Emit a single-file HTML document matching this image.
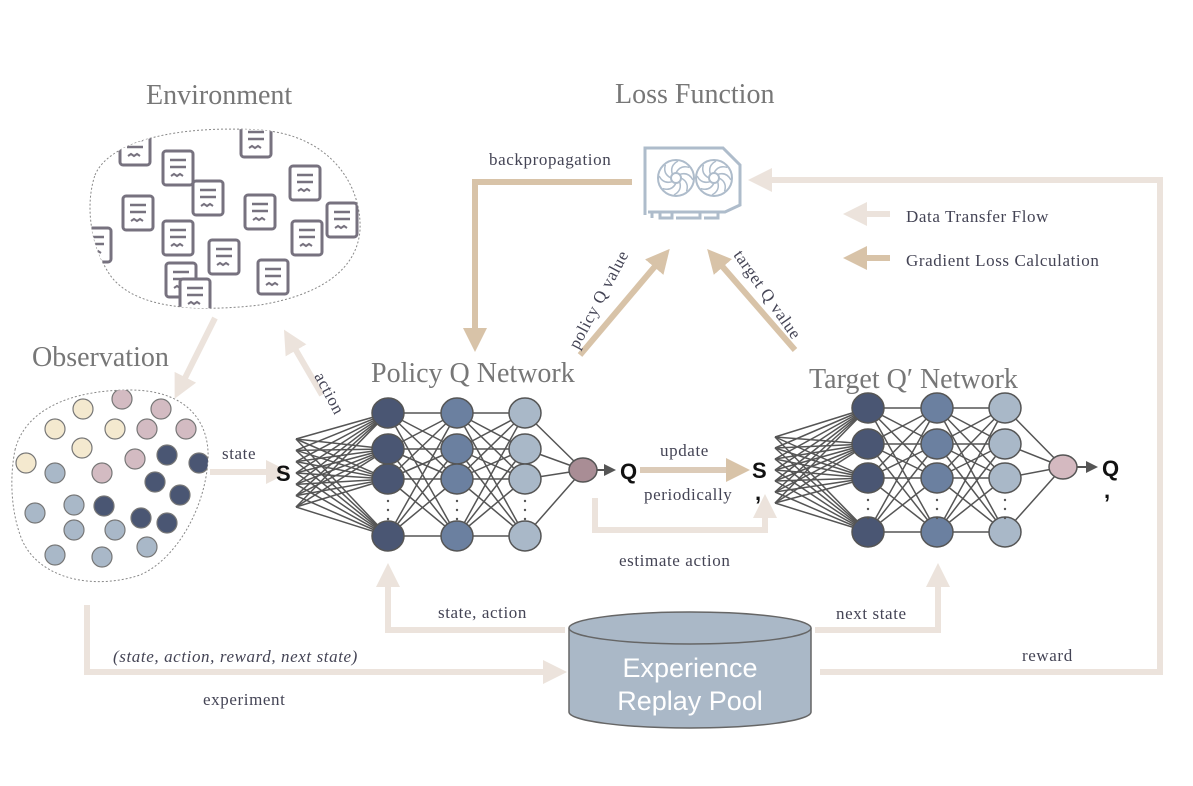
<!DOCTYPE html>
<html><head><meta charset="utf-8"><style>
html,body{margin:0;padding:0;background:#fff;width:1193px;height:786px;overflow:hidden}
svg text{font-family:"Liberation Serif",serif}
</style></head><body>
<svg id="s" width="1193" height="786" viewBox="0 0 1193 786" xmlns="http://www.w3.org/2000/svg">
<defs>
<marker id="al" markerWidth="4" markerHeight="4" refX="2" refY="2" orient="auto" markerUnits="strokeWidth"><path d="M0,0 L4,2 L0,4 z" fill="#ece3dc"/></marker>
<marker id="ad" markerWidth="4" markerHeight="4" refX="2" refY="2" orient="auto" markerUnits="strokeWidth"><path d="M0,0 L4,2 L0,4 z" fill="#d8c3a8"/></marker>
<marker id="ag" markerWidth="6" markerHeight="6" refX="4" refY="3" orient="auto" markerUnits="strokeWidth"><path d="M0,0 L6,3 L0,6 z" fill="#555"/></marker>
<clipPath id="envc"><path d="M95,175 C110,140 180,125 260,130 C330,135 362,185 360,230 C357,270 320,295 260,305 C200,312 135,310 110,275 C90,245 85,205 95,175 Z"/></clipPath>
<clipPath id="obsc"><path d="M15,450 C25,410 70,390 130,390 C185,390 210,420 208,460 C205,510 175,560 140,575 C95,590 40,580 22,540 C10,510 10,475 15,450 Z"/></clipPath>
</defs>
<g font-size="28" fill="#777">
<text x="146" y="104">Environment</text>
<text x="615" y="103">Loss Function</text>
<text x="32" y="366">Observation</text>
<text x="371" y="382">Policy Q Network</text>
<text x="809" y="388">Target Q′ Network</text>
</g>
<path d="M95,175 C110,140 180,125 260,130 C330,135 362,185 360,230 C357,270 320,295 260,305 C200,312 135,310 110,275 C90,245 85,205 95,175 Z" fill="none" stroke="#888" stroke-dasharray="2,2"/>
<g id="docs" clip-path="url(#envc)"></g>
<path d="M15,450 C25,410 70,390 130,390 C185,390 210,420 208,460 C205,510 175,560 140,575 C95,590 40,580 22,540 C10,510 10,475 15,450 Z" fill="none" stroke="#888" stroke-dasharray="2,2"/>
<g id="dots" clip-path="url(#obsc)"></g>
<g fill="none" stroke="#ece3dc" stroke-width="6">
<line x1="215" y1="318" x2="180" y2="388" marker-end="url(#al)"/>
<line x1="322" y1="395" x2="290" y2="340" marker-end="url(#al)"/>
<line x1="210" y1="472" x2="278" y2="472" marker-end="url(#al)"/>
<polyline points="820,672 1160,672 1160,180 760,180" marker-end="url(#al)"/>
<polyline points="595,498 595,530 765,530 765,506" marker-end="url(#al)"/>
<polyline points="565,630 388,630 388,575" marker-end="url(#al)"/>
<polyline points="815,630 938,630 938,575" marker-end="url(#al)"/>
<polyline points="87,605 87,672 555,672" marker-end="url(#al)"/>
<line x1="890" y1="214" x2="855" y2="214" marker-end="url(#al)"/>
</g>
<g fill="none" stroke="#d8c3a8" stroke-width="6">
<polyline points="632,182 475,182 475,340" marker-end="url(#ad)"/>
<line x1="580" y1="355" x2="662" y2="258" marker-end="url(#ad)"/>
<line x1="795" y1="350" x2="715" y2="258" marker-end="url(#ad)"/>
<line x1="890" y1="258" x2="855" y2="258" marker-end="url(#ad)"/>
<line x1="640" y1="470" x2="738" y2="470" stroke="#dccbb8" marker-end="url(#ad)"/>
</g>
<g fill="none" stroke="#aebccb" stroke-width="3">
<path d="M645,215 L645,148 L723,148 L740,165 L740,205 L725,212 L648,212"/>
<path d="M652,212 L652,218 M660,212 L660,218 L672,218 L672,212 M676,218 L700,218 L700,212 M704,218 L718,218 L718,212"/>
<circle cx="676" cy="178" r="18" stroke-width="2"/><circle cx="714" cy="178" r="18" stroke-width="2"/>
<circle cx="676" cy="178" r="5" stroke-width="2"/><circle cx="714" cy="178" r="5" stroke-width="2"/>
</g>
<g id="fan" stroke="#aebccb" stroke-width="1.5" fill="none"></g>
<g font-size="17" fill="#445" letter-spacing="0.6">
<text x="489" y="165">backpropagation</text>
<text x="906" y="222">Data Transfer Flow</text>
<text x="906" y="266">Gradient Loss Calculation</text>
<text x="222" y="459">state</text>
<text x="660" y="456">update</text>
<text x="644" y="500">periodically</text>
<text x="619" y="566">estimate action</text>
<text x="438" y="618">state, action</text>
<text x="836" y="619">next state</text>
<text x="1022" y="661">reward</text>
<text x="203" y="705">experiment</text>
<text x="113" y="662" font-style="italic">(state, action, reward, next state)</text>
<text transform="translate(314,376) rotate(62)">action</text>
<text transform="translate(578,350) rotate(-62)">policy Q value</text>
<text transform="translate(733,255) rotate(55)">target Q value</text>
</g>
<path d="M569,628 L569,712 A121,16 0 0 0 811,712 L811,628" fill="#aab8c7" stroke="#666" stroke-width="1.5"/>
<ellipse cx="690" cy="628" rx="121" ry="16" fill="#aab8c7" stroke="#666" stroke-width="1.5"/>
<text x="690" y="677" font-size="27" fill="#fff" text-anchor="middle" style="font-family:'Liberation Sans',sans-serif">Experience</text>
<text x="690" y="710" font-size="27" fill="#fff" text-anchor="middle" style="font-family:'Liberation Sans',sans-serif">Replay Pool</text>
<g id="nets"></g>
<g font-size="22" font-weight="bold" fill="#111">
<text x="276" y="481" style="font-family:'Liberation Sans',sans-serif">S</text>
<text x="620" y="479" style="font-family:'Liberation Sans',sans-serif">Q</text>
<text x="752" y="478" style="font-family:'Liberation Sans',sans-serif">S</text>
<text x="755" y="500" style="font-family:'Liberation Sans',sans-serif">,</text>
<text x="1102" y="476" style="font-family:'Liberation Sans',sans-serif">Q</text>
<text x="1104" y="498" style="font-family:'Liberation Sans',sans-serif">,</text>
</g>
</svg>
<script>
var NS="http://www.w3.org/2000/svg";
function el(p,t,a){var e=document.createElementNS(NS,t);for(var k in a)e.setAttribute(k,a[k]);p.appendChild(e);return e;}
var docs=document.getElementById('docs');
[[135,148],[178,168],[138,213],[178,238],[181,280],[208,198],[260,212],[256,140],[273,277],[305,183],[307,238],[342,220],[96,245],[224,257],[195,296]].forEach(function(c){
 var x=c[0],y=c[1];
 el(docs,'rect',{x:x-15,y:y-17,width:30,height:34,rx:3,fill:'#fff',stroke:'#77727f','stroke-width':3});
 el(docs,'line',{x1:x-8,y1:y-8,x2:x+8,y2:y-8,stroke:'#77727f','stroke-width':2.5});
 el(docs,'line',{x1:x-8,y1:y-1,x2:x+8,y2:y-1,stroke:'#77727f','stroke-width':2.5});
 el(docs,'path',{d:'M'+(x-7)+','+(y+8)+' l3,-2 l3,2 l3,-2 l3,2',stroke:'#77727f','stroke-width':2,fill:'none'});
});
var dots=document.getElementById('dots');
var Y='#f4e9cf',P='#d3bbc2',D='#4a5673',L='#a9b8c8';
[[83,409,Y],[55,429,Y],[82,448,Y],[26,463,Y],[115,429,Y],[122,399,P],[161,409,P],[147,429,P],[186,429,P],[135,459,P],[102,473,P],
[167,455,D],[199,463,D],[155,482,D],[180,495,D],[104,506,D],[141,518,D],[167,523,D],
[55,473,L],[35,513,L],[74,505,L],[74,530,L],[115,530,L],[55,555,L],[102,557,L],[147,547,L]].forEach(function(c){
 el(dots,'circle',{cx:c[0],cy:c[1],r:10,fill:c[2],stroke:'#777','stroke-width':1.2});
});
var fan=document.getElementById('fan');
[676,714].forEach(function(cx){for(var i=0;i<8;i++){var a=i*Math.PI/4,a2=a+0.9;
 el(fan,'path',{d:'M'+(cx+5*Math.cos(a))+','+(178+5*Math.sin(a))+' Q'+(cx+14*Math.cos(a+0.3))+','+(178+14*Math.sin(a+0.3))+' '+(cx+17*Math.cos(a2))+','+(178+17*Math.sin(a2))});}});
var nets=document.getElementById('nets');
function net(ix,iy0,iy1,xs,ys,ox,oy,oc,qx){
 var g=el(nets,'g',{stroke:'#555','stroke-width':1.5});
 var ins=[];for(var i=0;i<7;i++)ins.push(iy0+(iy1-iy0)*i/6);
 ins.forEach(function(y){ys.forEach(function(n){el(g,'line',{x1:ix,y1:y,x2:xs[0],y2:n});});});
 for(var l=0;l<2;l++)ys.forEach(function(a){ys.forEach(function(b){el(g,'line',{x1:xs[l],y1:a,x2:xs[l+1],y2:b});});});
 ys.forEach(function(a){el(g,'line',{x1:xs[2],y1:a,x2:ox,y2:oy});});
 el(g,'line',{x1:ox,y1:oy,x2:qx-8,y2:oy,'stroke-width':2,'marker-end':'url(#ag)'});
 var cols=['#4a5673','#6b80a0','#a9b8c8'];
 xs.forEach(function(x,l){ys.forEach(function(y){el(nets,'ellipse',{cx:x,cy:y,rx:16,ry:15,fill:cols[l],stroke:'#555','stroke-width':1.5});});
  [0,1,2].forEach(function(k){el(nets,'circle',{cx:x,cy:ys[2]+22+k*9,r:1.2,fill:'#555'});});});
 el(nets,'ellipse',{cx:ox,cy:oy,rx:14,ry:12,fill:oc,stroke:'#555','stroke-width':1.5});
}
net(296,439,507,[388,457,525],[413,449,479,536],583,470,'#a98d95',620);
net(775,437,503,[868,937,1005],[408,444,478,532],1063,467,'#d4b9c0',1102);
</script>
</body></html>
